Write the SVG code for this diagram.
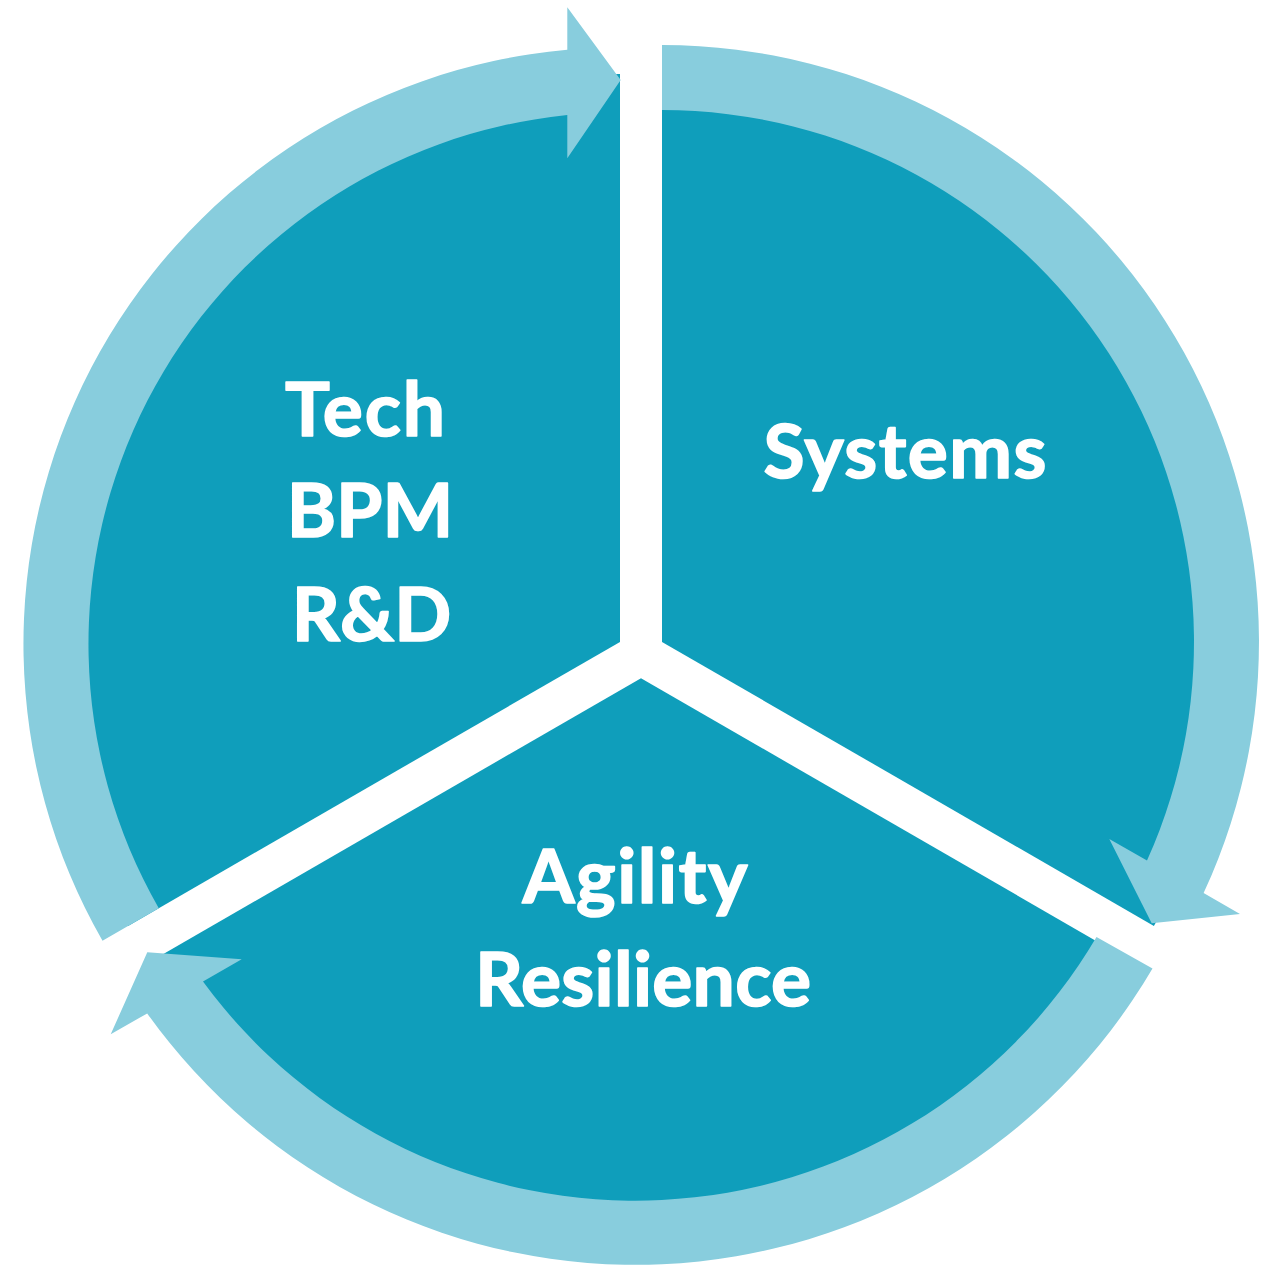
<svg xmlns="http://www.w3.org/2000/svg" width="1264" height="1265" viewBox="0 0 1264 1265">
  <style>
    .sector { fill: #0F9EBB; }
    .ring { fill: #88CDDD; }
    .label { fill: #FFFFFF; stroke: #FFFFFF; stroke-width: 1.6px; stroke-linejoin: round; font-family: Lato, "Open Sans", "Liberation Sans", sans-serif; font-weight: bold; font-size: 75px; text-anchor: middle; }
  </style>

  <!-- exploded pie: three sectors, each offset outward along its bisector -->
  <g id="node-tech">
    <path class="sector" d="M 620 641.9 L 620 73.9 A 568 568 0 0 0 128.1 925.9 Z"/>
    <text class="label" x="365" y="436" textLength="160" lengthAdjust="spacing">Tech</text>
    <text class="label" x="370" y="537">BPM</text>
    <text class="label" x="371.5" y="641">R&amp;D</text>
  </g>

  <g id="node-systems">
    <path class="sector" d="M 662 641.9 L 1153.9 925.9 A 568 568 0 0 0 662 73.9 Z"/>
    <text class="label" x="905" y="478" textLength="283" lengthAdjust="spacing">Systems</text>
  </g>

  <g id="node-agility">
    <path class="sector" d="M 641 678.2 L 149.1 962.2 A 568 568 0 0 0 1132.9 962.2 Z"/>
    <text class="label" x="635" y="903" textLength="225" lengthAdjust="spacing">Agility</text>
    <text class="label" x="643" y="1006" textLength="336" lengthAdjust="spacing">Resilience</text>
  </g>

  <!-- clockwise cycle arrows around the pie -->
  <g id="connectors">
    <!-- Systems -> Agility -->
    <path id="arrow-systems-agility" class="ring" d="M 662 45 A 597 597 0 0 1 1203.6 893.1 L 1240 914 L 1151.7 923.3 L 1109.3 839 L 1147 860.6 A 532 532 0 0 0 662 110 Z"/>
    <!-- Agility -> Tech -->
    <path id="arrow-agility-tech" class="ring" d="M 1152.5 968.5 A 599.5 599.5 0 0 1 147.2 1013.4 L 110.7 1034.3 L 147.3 952.3 L 241.7 959.3 L 203 981.5 A 535.5 535.5 0 0 0 1096.5 937 Z"/>
    <!-- Tech -> Systems -->
    <path id="arrow-tech-systems" class="ring" d="M 158.8 908.2 L 102.5 940.7 A 596.5 596.5 0 0 1 567.3 49.8 L 567.3 7.3 L 620.7 80 L 567.3 158.3 L 567.3 115.1 A 531.5 531.5 0 0 0 158.8 908.2 Z"/>
  </g>
</svg>
